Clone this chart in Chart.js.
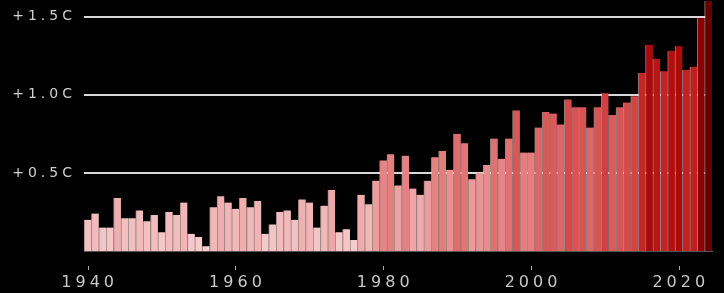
<!DOCTYPE html>
<html lang="en">
  <head>
    <meta charset="UTF-8" />
    <title>Warming bars</title>
    <style>
      html, body { margin: 0; padding: 0; background: #000; }
      #chart { display: block; }
    </style>
  </head>
  <body>
    <canvas id="chart" width="724" height="293"></canvas>
    <script src="https://cdn.jsdelivr.net/npm/chart.js"></script>
    <script>
      const years = [
        1940, 1941, 1942, 1943, 1944, 1945, 1946, 1947, 1948, 1949,
        1950, 1951, 1952, 1953, 1954, 1955, 1956, 1957, 1958, 1959,
        1960, 1961, 1962, 1963, 1964, 1965, 1966, 1967, 1968, 1969,
        1970, 1971, 1972, 1973, 1974, 1975, 1976, 1977, 1978, 1979,
        1980, 1981, 1982, 1983, 1984, 1985, 1986, 1987, 1988, 1989,
        1990, 1991, 1992, 1993, 1994, 1995, 1996, 1997, 1998, 1999,
        2000, 2001, 2002, 2003, 2004, 2005, 2006, 2007, 2008, 2009,
        2010, 2011, 2012, 2013, 2014, 2015, 2016, 2017, 2018, 2019,
        2020, 2021, 2022, 2023, 2024
      ];
      const anomaly = [
        0.20, 0.24, 0.15, 0.15, 0.34, 0.21, 0.21, 0.26, 0.19, 0.23,
        0.12, 0.25, 0.23, 0.31, 0.11, 0.09, 0.03, 0.28, 0.35, 0.31,
        0.27, 0.34, 0.28, 0.32, 0.11, 0.17, 0.25, 0.26, 0.20, 0.33,
        0.31, 0.15, 0.29, 0.39, 0.12, 0.14, 0.07, 0.36, 0.30, 0.45,
        0.58, 0.62, 0.42, 0.61, 0.40, 0.36, 0.45, 0.60, 0.64, 0.52,
        0.75, 0.69, 0.46, 0.50, 0.55, 0.72, 0.59, 0.72, 0.90, 0.63,
        0.63, 0.79, 0.89, 0.88, 0.81, 0.97, 0.92, 0.92, 0.79, 0.92,
        1.01, 0.87, 0.92, 0.95, 0.99, 1.14, 1.32, 1.23, 1.15, 1.28,
        1.31, 1.16, 1.18, 1.49, 1.60
      ];
      const yTicks = [0.5, 1.0, 1.5];
      const xTickYears = [1940, 1960, 1980, 2000, 2020];

      // colour ramp by value: light pink -> red -> maroon
      const stops = [
        [0.0, [247, 212, 212]],
        [0.3, [242, 182, 182]],
        [0.6, [230, 130, 130]],
        [0.9, [216, 88, 88]],
        [1.05, [204, 56, 56]],
        [1.2, [192, 26, 26]],
        [1.35, [165, 6, 6]],
        [1.5, [138, 0, 0]],
        [1.6, [104, 0, 0]]
      ];
      function barColor(v) {
        for (let i = 1; i < stops.length; i++) {
          if (v <= stops[i][0]) {
            const [a, ca] = stops[i - 1];
            const [b, cb] = stops[i];
            const t = (v - a) / (b - a);
            const c = ca.map((x, k) => Math.round(x + (cb[k] - x) * t));
            return `rgb(${c[0]},${c[1]},${c[2]})`;
          }
        }
        return "rgb(104,0,0)";
      }

      const spacing = {
        id: "spacing",
        beforeDraw(chart) {
          chart.ctx.letterSpacing = "4px";
        },
        afterDraw(chart) {
          const ctx = chart.ctx;
          const x = chart.scales.x;
          ctx.save();
          ctx.strokeStyle = "#aaa";
          ctx.lineWidth = 1;
          xTickYears.forEach(y => {
            const px = Math.round(x.getPixelForValue(years.indexOf(y))) + 0.5;
            ctx.beginPath();
            ctx.moveTo(px, 266);
            ctx.lineTo(px, 270);
            ctx.stroke();
          });
          ctx.restore();
        }
      };

      new Chart(document.getElementById("chart"), {
        type: "bar",
        data: {
          labels: years,
          datasets: [
            {
              data: anomaly,
              backgroundColor: anomaly.map(barColor),
              borderColor: "rgba(255,235,235,0.55)",
              borderWidth: { left: 1, top: 0, right: 0, bottom: 0 },
              barPercentage: 1,
              categoryPercentage: 1
            }
          ]
        },
        options: {
          responsive: false,
          animation: false,
          layout: { padding: { top: 1, right: 12, left: 0, bottom: 0 } },
          plugins: { legend: { display: false }, tooltip: { enabled: false } },
          scales: {
            x: {
              grid: { display: false, drawTicks: false },
              border: { display: true, color: "#555", width: 1 },
              ticks: {
                autoSkip: false,
                maxRotation: 0,
                padding: 22,
                labelOffset: 2,
                color: "#c8c8c8",
                font: { family: "DejaVu Sans", size: 16 },
                callback: function (val) {
                  const y = years[val];
                  return xTickYears.includes(y) ? String(y) : "";
                }
              },
              afterFit: s => {
                s.height = 42;
                s.paddingLeft = 0;
                s.paddingRight = 0;
              }
            },
            y: {
              min: 0,
              max: 1.6,
              afterBuildTicks: s => { s.ticks = yTicks.map(v => ({ value: v })); },
              grid: { color: "#d8d8d8", lineWidth: 2, drawTicks: false },
              border: { display: false },
              ticks: {
                padding: 8,
                color: "#d0d0d0",
                font: { family: "DejaVu Sans", size: 14 },
                callback: v => "+" + v.toFixed(1) + "C"
              },
              afterFit: s => {
                s.width = 84;
                s.paddingTop = 0;
                s.paddingBottom = 0;
              }
            }
          }
        },
        plugins: [spacing]
      });
    </script>
  </body>
</html>
